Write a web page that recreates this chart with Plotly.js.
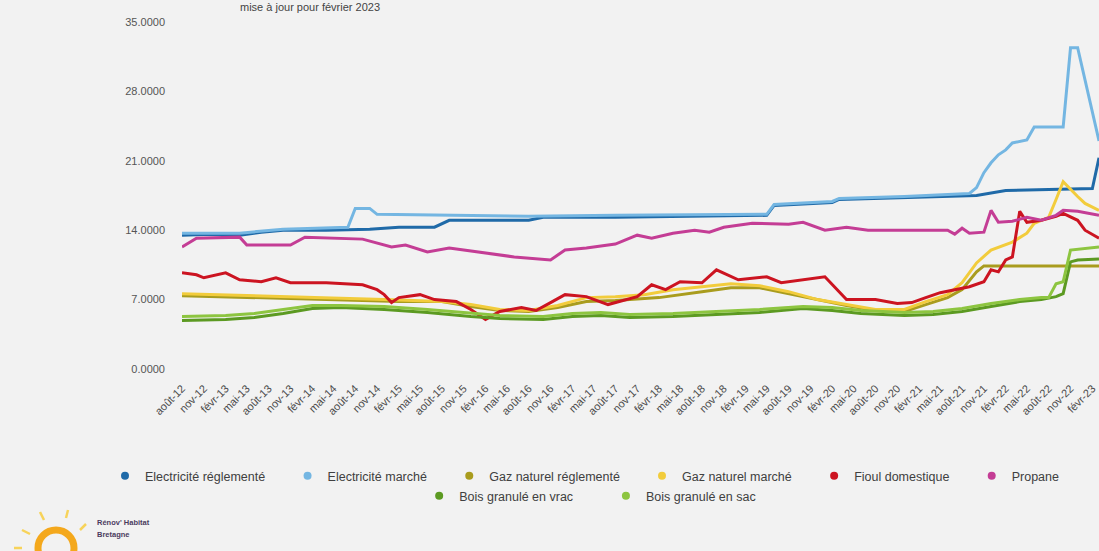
<!DOCTYPE html>
<html>
<head>
<meta charset="utf-8">
<script src="https://cdn.plot.ly/plotly-3.0.1.min.js"></script>
<style>html,body{margin:0;padding:0;background:#f2f2f2;}#chart{width:1099px;height:551px;}</style>
</head>
<body>
<div id="chart"></div>
<script>
// ---- tick labels (quarterly) ----
const tickDates = ["2012-08-01","2012-11-01","2013-02-01","2013-05-01","2013-08-01","2013-11-01","2014-02-01","2014-05-01","2014-08-01","2014-11-01","2015-02-01","2015-05-01","2015-08-01","2015-11-01","2016-02-01","2016-05-01","2016-08-01","2016-11-01","2017-02-01","2017-05-01","2017-08-01","2017-11-01","2018-02-01","2018-05-01","2018-08-01","2018-11-01","2019-02-01","2019-05-01","2019-08-01","2019-11-01","2020-02-01","2020-05-01","2020-08-01","2020-11-01","2021-02-01","2021-05-01","2021-08-01","2021-11-01","2022-02-01","2022-05-01","2022-08-01","2022-11-01","2023-02-01"];
const tickLabels = ["août-12","nov-12","févr-13","mai-13","août-13","nov-13","févr-14","mai-14","août-14","nov-14","févr-15","mai-15","août-15","nov-15","févr-16","mai-16","août-16","nov-16","févr-17","mai-17","août-17","nov-17","févr-18","mai-18","août-18","nov-18","févr-19","mai-19","août-19","nov-19","févr-20","mai-20","août-20","nov-20","févr-21","mai-21","août-21","nov-21","févr-22","mai-22","août-22","nov-22","févr-23"];

// ---- series ----
const elecRegDates = ["2012-08","2012-12","2013-04","2013-07","2013-10","2014-04","2014-10","2015-02","2015-07","2015-09","2016-08","2016-10","2017-08","2018-06","2019-05","2019-06","2020-02","2020-03","2020-12","2021-10","2022-02","2022-08","2023-02","2023-03"];
const elecRegValues = [13.5,13.6,13.5,13.8,14.0,14.0,14.1,14.3,14.3,15.0,15.0,15.3,15.3,15.4,15.5,16.5,16.8,17.1,17.3,17.5,18.0,18.1,18.2,21.3];

const elecMarDates = ["2012-08","2013-04","2013-10","2014-04","2014-07","2014-08","2014-10","2014-11","2015-07","2016-08","2017-08","2019-05","2019-06","2020-02","2020-03","2020-12","2021-09","2021-10","2021-11","2021-12","2022-01","2022-02","2022-03","2022-05","2022-06","2022-10","2022-11","2022-12","2023-03"];
const elecMarValues = [13.7,13.7,14.1,14.2,14.3,16.2,16.2,15.6,15.5,15.4,15.5,15.6,16.6,16.9,17.2,17.4,17.7,18.3,19.8,20.8,21.6,22.1,22.8,23.1,24.4,24.4,32.4,32.4,23.0];

const gazRegDates = ["2012-08","2013-06","2014-04","2015-02","2015-08","2015-12","2016-04","2016-08","2016-12","2017-04","2017-08","2018-02","2018-08","2018-12","2019-04","2019-08","2019-12","2020-04","2020-08","2020-12","2021-03","2021-06","2021-08","2021-10","2021-11","2023-03"];
const gazRegValues = [7.4,7.2,7.0,6.8,6.8,6.3,5.9,5.8,6.2,6.8,6.9,7.2,7.8,8.2,8.2,7.6,7.0,6.4,5.9,5.8,6.5,7.2,8.0,9.8,10.4,10.4];

const gazMarDates = ["2012-08","2013-06","2014-04","2014-12","2015-08","2015-12","2016-04","2016-08","2016-12","2017-04","2017-08","2017-12","2018-04","2018-08","2018-12","2019-04","2019-08","2019-12","2020-04","2020-08","2020-12","2021-03","2021-06","2021-08","2021-10","2021-12","2022-03","2022-05","2022-06","2022-08","2022-09","2022-10","2022-12","2023-01","2023-03"];
const gazMarValues = [7.6,7.4,7.2,7.0,6.8,6.5,6.0,5.9,6.4,7.2,7.3,7.5,8.0,8.3,8.6,8.4,7.8,7.0,6.5,6.0,6.0,6.8,7.5,8.7,10.7,12.0,12.8,13.7,14.7,15.3,17.1,18.9,17.4,16.7,16.0];

const fioulDates = ["2012-08","2012-10","2012-11","2013-02","2013-04","2013-07","2013-09","2013-11","2014-04","2014-09","2014-11","2014-12","2015-01","2015-02","2015-05","2015-07","2015-10","2015-12","2016-02","2016-04","2016-07","2016-09","2016-11","2017-01","2017-04","2017-07","2017-11","2018-01","2018-03","2018-05","2018-08","2018-10","2019-01","2019-05","2019-07","2019-10","2020-01","2020-04","2020-08","2020-11","2021-01","2021-03","2021-05","2021-09","2021-11","2021-12","2022-01","2022-02","2022-03","2022-04","2022-05","2022-07","2022-09","2022-10","2022-12","2023-01","2023-03"];
const fioulValues = [9.7,9.5,9.2,9.7,9.0,8.8,9.2,8.7,8.7,8.5,8.0,7.5,6.7,7.2,7.5,7.0,6.8,6.0,5.0,5.8,6.2,5.9,6.7,7.5,7.3,6.5,7.3,8.5,8.0,8.8,8.7,10.0,9.0,9.3,8.7,9.0,9.3,7.0,7.0,6.6,6.7,7.2,7.7,8.3,8.8,10.0,9.8,11.0,11.3,15.9,14.8,15.0,15.4,15.7,15.0,14.0,13.2];

const propaneDates = ["2012-08","2012-10","2013-04","2013-05","2013-11","2014-01","2014-09","2015-01","2015-03","2015-06","2015-09","2016-06","2016-11","2017-01","2017-04","2017-08","2017-11","2018-01","2018-04","2018-07","2018-09","2018-11","2019-03","2019-08","2019-10","2020-01","2020-04","2020-07","2021-06","2021-07","2021-08","2021-09","2021-11","2021-12","2022-01","2022-03","2022-05","2022-07","2022-09","2022-10","2022-12","2023-03"];
const propaneValues = [12.3,13.2,13.3,12.5,12.5,13.3,13.1,12.3,12.5,11.8,12.2,11.3,11.0,12.0,12.2,12.6,13.5,13.2,13.7,14.0,13.8,14.3,14.7,14.6,14.8,14.0,14.3,14.0,14.0,13.6,14.2,13.7,13.8,16.0,14.8,14.9,15.3,15.0,15.5,16.0,15.9,15.5];

const boisVracDates = ["2012-08","2013-02","2013-06","2013-10","2014-02","2014-06","2014-12","2015-06","2015-12","2016-04","2016-10","2017-02","2017-06","2017-10","2018-04","2018-10","2019-04","2019-10","2020-02","2020-06","2020-12","2021-04","2021-08","2021-12","2022-04","2022-07","2022-09","2022-10","2022-11","2022-12","2023-03"];
const boisVracValues = [4.9,5.0,5.2,5.6,6.1,6.2,6.0,5.7,5.3,5.1,5.0,5.3,5.4,5.2,5.3,5.5,5.7,6.1,5.9,5.6,5.4,5.5,5.8,6.3,6.8,7.0,7.3,7.6,10.8,11.0,11.1];

const boisSacDates = ["2012-08","2013-02","2013-06","2013-10","2014-02","2014-06","2014-12","2015-06","2015-12","2016-04","2016-10","2017-02","2017-06","2017-10","2018-04","2018-10","2019-04","2019-10","2020-02","2020-06","2020-12","2021-04","2021-08","2021-12","2022-04","2022-07","2022-08","2022-09","2022-10","2022-11","2023-03"];
const boisSacValues = [5.3,5.4,5.6,6.0,6.4,6.4,6.3,6.0,5.6,5.4,5.3,5.6,5.7,5.5,5.6,5.8,6.0,6.3,6.2,5.9,5.7,5.8,6.1,6.6,7.0,7.2,7.2,8.6,8.8,12.0,12.3];

const seriesNames = ["Electricité réglementé","Electricité marché","Gaz naturel réglementé","Gaz naturel marché","Fioul domestique","Propane","Bois granulé en vrac","Bois granulé en sac"];
const seriesColors = ["#1f6aa8","#74b6e2","#a99c1e","#f2cc3c","#cc1421","#c43d95","#5c9a22","#8dc540"];
const seriesX = [elecRegDates,elecMarDates,gazRegDates,gazMarDates,fioulDates,propaneDates,boisVracDates,boisSacDates];
const seriesY = [elecRegValues,elecMarValues,gazRegValues,gazMarValues,fioulValues,propaneValues,boisVracValues,boisSacValues];
// legend blocks: row 1 split in two blocks, row 2 centred
const legendRow = ['legend','legend','legend','legend3','legend3','legend3','legend2','legend2'];
const trailingSpaces = [5,5,0,5,5,0,8,0];

const traces = [];
seriesNames.forEach((n,i)=>{
  traces.push({x:seriesX[i], y:seriesY[i], type:'scatter', mode:'lines', name:n, showlegend:false,
    legendgroup:n, line:{color:seriesColors[i], width:3}, hoverinfo:'skip'});
});
seriesNames.forEach((n,i)=>{
  traces.push({x:[null], y:[null], type:'scatter', mode:'markers', name: n + '\u00a0'.repeat(trailingSpaces[i]), legendgroup:n,
    legend:legendRow[i], marker:{color:seriesColors[i], size:8, symbol:'circle'}});
});

// pixel -> paper helpers for decorations
const L=182, R=1099, T=22, B=369;
const px = v => (v-L)/(R-L);
const py = v => (B-v)/(B-T);

const rays = [[22,530,30,534],[40,512,44,520],[68,510,66,518],[86,524,80,530],[14,548,22,548]];
const shapes = [{type:'circle', xref:'paper', yref:'paper', x0:px(38), x1:px(74), y0:py(566), y1:py(530),
  line:{color:'#f4a81c', width:7}, fillcolor:'rgba(0,0,0,0)'}];
rays.forEach(r=>shapes.push({type:'line', xref:'paper', yref:'paper', x0:px(r[0]), y0:py(r[1]), x1:px(r[2]), y1:py(r[3]),
  line:{color:'#f7d35a', width:2.5}}));

const legendBase = {orientation:'h', xref:'container', yref:'container', yanchor:'top',
    font:{size:12.5, color:'#404040'}, bgcolor:'rgba(0,0,0,0)', itemclick:false};

const layout = {
  width:1099, height:551,
  margin:{l:L, r:0, t:T, b:551-B, pad:0},
  paper_bgcolor:'#f2f2f2', plot_bgcolor:'#f2f2f2',
  font:{family:'Liberation Sans, Arial, sans-serif', color:'#595959', size:11},
  xaxis:{type:'date', range:['2012-08-01','2023-03-01'], tickmode:'array', tickvals:tickDates, ticktext:tickLabels,
    tickangle:-45, showgrid:false, zeroline:false, showline:false, ticks:'', ticklabelstandoff:10,
    tickfont:{size:11, color:'#4a4a4a'}},
  yaxis:{range:[0,35], tickmode:'linear', tick0:0, dtick:7, tickformat:'.4f', showgrid:false, zeroline:false,
    showline:false, ticks:'', ticklabelstandoff:16, tickfont:{size:11, color:'#555'}},
  showlegend:true,
  legend:Object.assign({}, legendBase, {x:105/1099, xanchor:'left', y:1-461/551}),
  legend3:Object.assign({}, legendBase, {x:642/1099, xanchor:'left', y:1-461/551}),
  legend2:Object.assign({}, legendBase, {x:0.537, xanchor:'center', y:1-481/551}),
  shapes:shapes,
  annotations:[
    {xref:'paper', yref:'paper', x:px(310), y:py(7), text:'mise à jour pour février 2023', showarrow:false,
      xanchor:'center', yanchor:'middle', font:{size:11, color:'#444'}},
    {xref:'paper', yref:'paper', x:px(95), y:py(522), text:'<b>Rénov\' Habitat</b>', showarrow:false,
      xanchor:'left', yanchor:'middle', font:{size:7.5, color:'#4b3b5e'}},
    {xref:'paper', yref:'paper', x:px(95), y:py(534), text:'<b>Bretagne</b>', showarrow:false,
      xanchor:'left', yanchor:'middle', font:{size:7.5, color:'#4b3b5e'}}
  ]
};
Plotly.newPlot('chart', traces, layout, {displayModeBar:false, staticPlot:true});
</script>
</body>
</html>
